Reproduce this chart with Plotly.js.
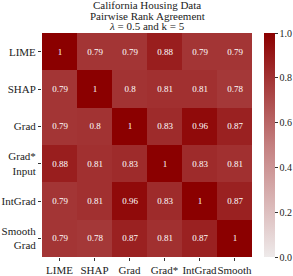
<!DOCTYPE html>
<html><head><meta charset="utf-8">
<script src="https://cdn.plot.ly/plotly-3.0.1.min.js"></script>
<style>html,body{margin:0;padding:0;background:#fff}#chart{width:293px;height:276px}</style>
</head><body><div id="chart"></div>
<script>
var methods = ["LIME", "SHAP", "Grad", "Grad*<br>Input", "IntGrad", "Smooth<br>Grad"];
var rowLIME   = [1, 0.79, 0.79, 0.88, 0.79, 0.79];
var rowSHAP   = [0.79, 1, 0.8, 0.81, 0.81, 0.78];
var rowGrad   = [0.79, 0.8, 1, 0.83, 0.96, 0.87];
var rowGradIn = [0.88, 0.81, 0.83, 1, 0.83, 0.81];
var rowIntGrad= [0.79, 0.81, 0.96, 0.83, 1, 0.87];
var rowSmooth = [0.79, 0.78, 0.87, 0.81, 0.87, 1];
var zvals = [rowLIME, rowSHAP, rowGrad, rowGradIn, rowIntGrad, rowSmooth];
var titleLines = ["California Housing Data", "Pairwise Rank Agreement", "<i>λ</i> = 0.5 and k = 5"];
var fontFam = "'Liberation Serif', 'Times New Roman', serif";

var trace = {
  type: "heatmap",
  z: zvals, x: methods, y: methods,
  zmin: 0, zmax: 1,
  colorscale: [[0, "#eeeaea"], [0.5, "#c47f7f"], [1, "#8b0000"]],
  texttemplate: "%{z}",
  textfont: {color: "#ffffff", size: 9, family: fontFam},
  hoverinfo: "none",
  colorbar: {
    x: 1.058, xanchor: "left", xref: "paper",
    y: 0.5, yanchor: "middle", len: 1, lenmode: "fraction",
    thickness: 11, thicknessmode: "pixels",
    outlinewidth: 0,
    tickvals: [0, 0.2, 0.4, 0.6, 0.8, 1.0],
    ticktext: ["0.0", "0.2", "0.4", "0.6", "0.8", "1.0"],
    ticks: "outside", ticklen: 3, tickcolor: "#333",
    tickfont: {size: 10, family: fontFam, color: "#222"},
    xpad: 0, ypad: 0
  }
};

var plotTop = 33, plotBottom = 257;
var titleY = [5, 15.5, 26];
var annotations = titleLines.map(function (t, i) {
  return {
    text: t, xref: "paper", yref: "paper", x: 0.5, xanchor: "center",
    y: (plotBottom - titleY[i]) / (plotBottom - plotTop), yanchor: "middle",
    showarrow: false, font: {size: 11, family: fontFam, color: "#222"}
  };
});

var layout = {
  width: 293, height: 276,
  margin: {l: 42, r: 41, t: 33, b: 19, pad: 0, autoexpand: false},
  paper_bgcolor: "#fff", plot_bgcolor: "#fff",
  font: {family: fontFam, color: "#222"},
  annotations: annotations,
  xaxis: {
    type: "category", showgrid: false, zeroline: false, showline: false,
    ticks: "outside", ticklen: 3, tickcolor: "#333", automargin: false,
    tickfont: {size: 11, family: fontFam, color: "#222"}, tickangle: 0
  },
  yaxis: {
    type: "category", autorange: "reversed", showgrid: false, zeroline: false, showline: false,
    ticks: "outside", ticklen: 3, tickcolor: "#333", automargin: false,
    tickfont: {size: 11, family: fontFam, color: "#222"}
  }
};

Plotly.newPlot("chart", [trace], layout, {displayModeBar: false, staticPlot: true});
</script></body></html>
